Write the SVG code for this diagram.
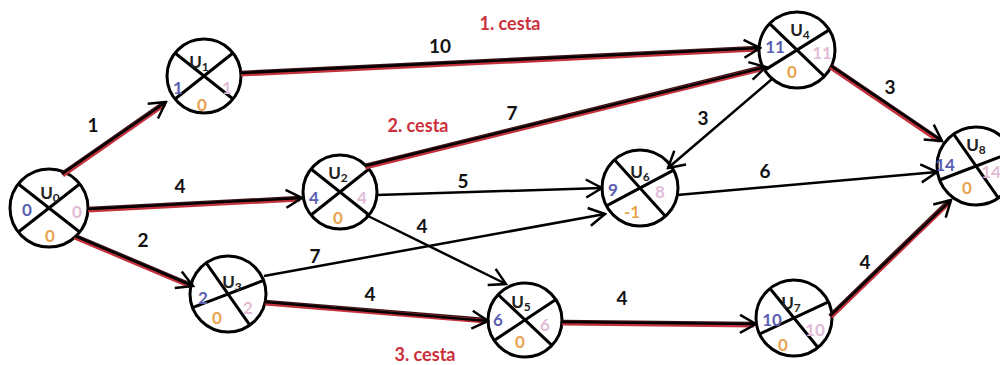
<svg xmlns="http://www.w3.org/2000/svg" width="1000" height="365" viewBox="0 0 1000 365">
<style>
.c{fill:#fff;stroke:#000;stroke-width:3}
.x{stroke:#000;stroke-width:3;fill:none}
text{font-family:Lato,"Liberation Sans",sans-serif;font-weight:bold;text-anchor:middle}
.u{font-size:17px;fill:#222}
.u tspan{font-size:12px}
.l{font-size:17px;fill:#5a5eb0}
.r{font-size:17px;fill:#e2bcd6}
.b{font-size:17px;fill:#e8a450}
.e{stroke:#000;stroke-width:2.5;fill:none}
.pk{stroke:#3a1416;stroke-width:4.5}
.p{stroke:#c3323c;stroke-width:4.5}
.w{font-size:19px;fill:#111}
.rl{font-size:18px;fill:#cc2f3b}
</style>
<defs>
<marker id="a" markerUnits="userSpaceOnUse" markerWidth="22" markerHeight="22" viewBox="0 0 22 22" refX="20" refY="11" orient="auto">
<path d="M4,2 L20,11 L4,20" fill="none" stroke="#000" stroke-width="2.5"/>
</marker>
</defs>
<g id="U0" transform="translate(49,208)">
<circle class="c" r="39"/>
<path class="x" d="M-30.7,-24L30.7,24M30.7,-24L-30.7,24"/>
<text class="u" x="1" y="-9">U<tspan dy="3">0</tspan></text>
<text class="l" x="-22" y="8">0</text>
<text class="r" x="28" y="10">0</text>
<text class="b" x="1" y="34">0</text>
</g>
<g id="U1" transform="translate(204,76)">
<circle class="c" r="37"/>
<path class="x" d="M-29,-23L29,23M29,-23L-29,23"/>
<text class="u" x="-5" y="-8">U<tspan dy="3">1</tspan></text>
<text class="l" x="-26" y="18">1</text>
<text class="r" x="23" y="18">1</text>
<text class="b" x="-2" y="35">0</text>
</g>
<g id="U2" transform="translate(340,192)">
<circle class="c" r="37"/>
<path class="x" d="M-29,-23L29,23M29,-23L-29,23"/>
<text class="u" x="-2" y="-13">U<tspan dy="3">2</tspan></text>
<text class="l" x="-26" y="12">4</text>
<text class="r" x="22" y="12">4</text>
<text class="b" x="-2" y="32">0</text>
</g>
<g id="U3" transform="translate(228,294)">
<circle class="c" r="38"/>
<path class="x" transform="rotate(17)" d="M-30,-23.4L30,23.4M30,-23.4L-30,23.4"/>
<text class="u" x="4" y="-6">U<tspan dy="3">3</tspan></text>
<text class="l" x="-25" y="10">2</text>
<text class="r" x="20" y="20">2</text>
<text class="b" x="-11" y="30">0</text>
</g>
<g id="U4" transform="translate(797,50)">
<circle class="c" r="38"/>
<path class="x" transform="rotate(6)" d="M-30,-23.4L30,23.4M30,-23.4L-30,23.4"/>
<text class="u" x="3" y="-14">U<tspan dy="3">4</tspan></text>
<text class="l" x="-22" y="3">11</text>
<text class="r" x="25" y="9">11</text>
<text class="b" x="-5" y="28">0</text>
</g>
<g id="U5" transform="translate(525,320)">
<circle class="c" r="37"/>
<path class="x" transform="rotate(5)" d="M-29,-23L29,23M29,-23L-29,23"/>
<text class="u" x="-4" y="-12">U<tspan dy="3">5</tspan></text>
<text class="l" x="-27" y="6">6</text>
<text class="r" x="20" y="11">6</text>
<text class="b" x="-5" y="28">0</text>
</g>
<g id="U6" transform="translate(640,188)">
<circle class="c" r="38"/>
<path class="x" transform="rotate(10)" d="M-30,-23.4L30,23.4M30,-23.4L-30,23.4"/>
<text class="u" x="0" y="-10">U<tspan dy="3">6</tspan></text>
<text class="l" x="-27" y="8">9</text>
<text class="r" x="20" y="10">8</text>
<text class="b" x="-8" y="30">-1</text>
</g>
<g id="U7" transform="translate(794,318)">
<circle class="c" r="38"/>
<path class="x" transform="rotate(13)" d="M-30,-23.4L30,23.4M30,-23.4L-30,23.4"/>
<text class="u" x="-3" y="-9">U<tspan dy="3">7</tspan></text>
<text class="l" x="-22" y="8">10</text>
<text class="r" x="21" y="18">10</text>
<text class="b" x="-11" y="33">0</text>
</g>
<g id="U8" transform="translate(976,166)">
<circle class="c" r="39"/>
<path class="x" transform="rotate(17)" d="M-30.7,-24L30.7,24M30.7,-24L-30.7,24"/>
<text class="u" x="0" y="-15">U<tspan dy="3">8</tspan></text>
<text class="l" x="-31" y="5">14</text>
<text class="r" x="15" y="12">14</text>
<text class="b" x="-9" y="28">0</text>
</g>
<g id="connectors">
<line class="pk" x1="62" y1="174" x2="164" y2="103"/>
<line class="p" x1="62.8" y1="175.2" x2="164.8" y2="104.2"/>
<line class="e" x1="62" y1="174" x2="166" y2="102" stroke="none" marker-end="url(#a)"/>
<line class="pk" x1="88" y1="209" x2="300" y2="198"/>
<line class="p" x1="88" y1="210.3" x2="300" y2="199.3"/>
<line class="e" x1="88" y1="209" x2="302" y2="198" stroke="none" marker-end="url(#a)"/>
<line class="pk" x1="75" y1="236" x2="191" y2="285"/>
<line class="p" x1="74.5" y1="237.2" x2="190.5" y2="286.2"/>
<line class="e" x1="75" y1="236" x2="193" y2="286" stroke="none" marker-end="url(#a)"/>
<line class="pk" x1="241" y1="73" x2="758" y2="48"/>
<line class="p" x1="241" y1="74.3" x2="758" y2="49.3"/>
<line class="e" x1="241" y1="73" x2="760" y2="48" stroke="none" marker-end="url(#a)"/>
<line class="pk" x1="365" y1="166" x2="764" y2="67"/>
<line class="p" x1="365.3" y1="167.3" x2="764.3" y2="68.3"/>
<line class="e" x1="365" y1="166" x2="766" y2="67" stroke="none" marker-end="url(#a)"/>
<line class="e" x1="377" y1="195" x2="602" y2="188" marker-end="url(#a)"/>
<line class="e" x1="366" y1="215" x2="506" y2="284" marker-end="url(#a)"/>
<line class="e" x1="264" y1="276" x2="605" y2="214" marker-end="url(#a)"/>
<line class="pk" x1="265" y1="302" x2="486" y2="320"/>
<line class="p" x1="265" y1="303.3" x2="486" y2="321.3"/>
<line class="e" x1="265" y1="302" x2="488" y2="321" stroke="none" marker-end="url(#a)"/>
<line class="e" x1="772" y1="79" x2="668" y2="168" marker-end="url(#a)"/>
<line class="pk" x1="831" y1="66" x2="940" y2="140"/>
<line class="p" x1="830.3" y1="67.1" x2="939.3" y2="141.1"/>
<line class="e" x1="831" y1="66" x2="942" y2="141" stroke="none" marker-end="url(#a)"/>
<line class="e" x1="677" y1="195" x2="937" y2="172" marker-end="url(#a)"/>
<line class="pk" x1="562" y1="322" x2="754" y2="324"/>
<line class="p" x1="562" y1="323.3" x2="754" y2="325.3"/>
<line class="e" x1="562" y1="322" x2="756" y2="324" stroke="none" marker-end="url(#a)"/>
<line class="pk" x1="830" y1="316" x2="949" y2="201"/>
<line class="p" x1="830.9" y1="316.9" x2="949.9" y2="201.9"/>
<line class="e" x1="830" y1="316" x2="951" y2="200" stroke="none" marker-end="url(#a)"/>
</g>
<g id="labels">
<text class="w" x="93" y="132">1</text>
<text class="w" x="180" y="193">4</text>
<text class="w" x="143" y="247">2</text>
<text class="w" x="440" y="53">10</text>
<text class="w" x="512" y="120">7</text>
<text class="w" x="463" y="188">5</text>
<text class="w" x="422" y="233">4</text>
<text class="w" x="315" y="263">7</text>
<text class="w" x="370" y="301">4</text>
<text class="w" x="703" y="125">3</text>
<text class="w" x="890" y="94">3</text>
<text class="w" x="765" y="178">6</text>
<text class="w" x="622" y="305">4</text>
<text class="w" x="865" y="269">4</text>
<text class="rl" x="510" y="30">1. cesta</text>
<text class="rl" x="418" y="132">2. cesta</text>
<text class="rl" x="425" y="361">3. cesta</text>
</g>
</svg>
